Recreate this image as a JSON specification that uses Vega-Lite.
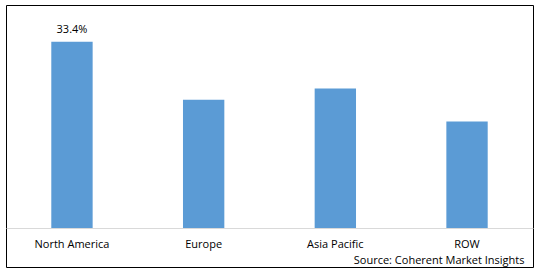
{
  "$schema": "https://vega.github.io/schema/vega-lite/v6.json",
  "width": 527,
  "height": 262,
  "autosize": {"type": "none"},
  "padding": {"left": 6, "top": 5, "right": 5, "bottom": 5},
  "background": "white",
  "config": {
    "view": {"stroke": "#000000", "strokeWidth": 1},
    "font": "Open Sans"
  },
  "data": {
    "values": [
      {"region": "North America", "share": 33.4, "label": "33.4%"},
      {"region": "Europe", "share": 23.0, "label": ""},
      {"region": "Asia Pacific", "share": 25.0, "label": ""},
      {"region": "ROW", "share": 19.1, "label": ""}
    ]
  },
  "encoding": {
    "x": {
      "field": "region",
      "type": "nominal",
      "sort": null,
      "scale": {"paddingInner": 0.686, "paddingOuter": 0.344},
      "axis": {
        "orient": "bottom",
        "offset": -39,
        "labelAngle": 0,
        "labelFont": "Open Sans",
        "labelFontSize": 11,
        "labelColor": "#000000",
        "labelPadding": 10,
        "ticks": false,
        "domainColor": "#d9d9d9",
        "domainWidth": 1,
        "grid": false,
        "title": "Source: Coherent Market Insights",
        "titleFont": "Open Sans",
        "titleFontSize": 11,
        "titleFontWeight": "normal",
        "titleColor": "#000000",
        "titleAlign": "right",
        "titleX": 518,
        "titlePadding": 5
      }
    },
    "y": {
      "field": "share",
      "type": "quantitative",
      "scale": {"domain": [-7, 40], "nice": false, "zero": false},
      "axis": null
    }
  },
  "layer": [
    {
      "mark": {"type": "bar", "color": "#5B9BD5"},
      "encoding": {"y2": {"datum": 0}}
    },
    {
      "mark": {"type": "text", "baseline": "bottom", "dy": -7, "fontSize": 11, "font": "Open Sans", "color": "#000000"},
      "encoding": {"text": {"field": "label"}}
    }
  ]
}
